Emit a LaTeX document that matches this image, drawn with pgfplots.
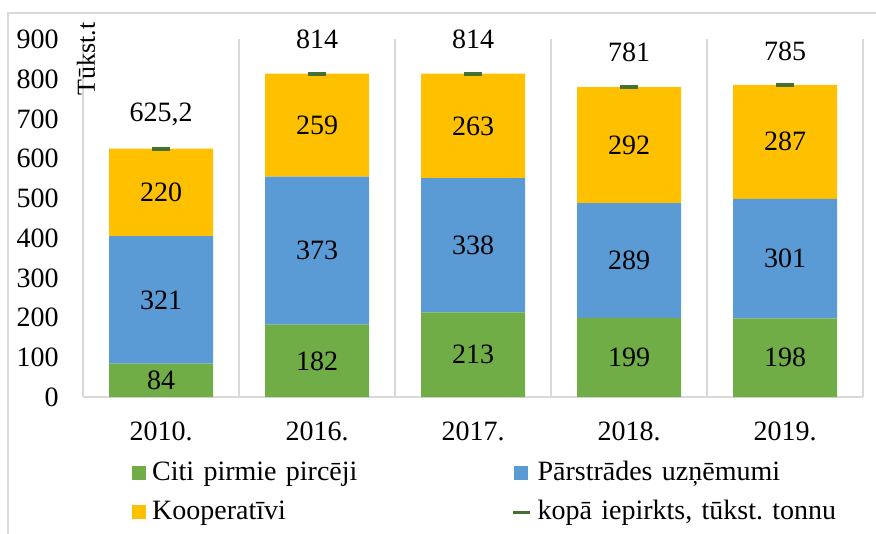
\documentclass[border=0pt]{standalone}
\usepackage{pgfplots}
\pgfplotsset{compat=1.18}
\usepackage{pgfplotstable}
\usepackage{fontspec}
\setmainfont{Liberation Serif}
\definecolor{cgreen}{HTML}{70AD47}
\definecolor{cblue}{HTML}{5B9BD5}
\definecolor{cgold}{HTML}{FFC000}
\definecolor{cdark}{HTML}{46702F}
\definecolor{gridc}{HTML}{D9D9D9}
\pgfplotstableread{
x green blue gold total label
0 84 321 220 625.2 625,2
1 182 373 259 814 814
2 213 338 263 814 814
3 199 289 292 781 781
4 198 301 287 785 785
}\datatable
\pgfplotsset{
  /pgf/number format/assume math mode=true,
  base/.style={width=390pt,height=178.75pt,scale only axis,
    xmin=-0.5,xmax=4.5,ymin=0,ymax=900,at={(0,0)},anchor=south west},
  seglabels/.style={nodes near coords, point meta=\thisrow{#1},
    every node near coord/.append style={anchor=center,text=black}},
  sqlegend/.style={legend image code/.code={\fill[##1] (0pt,-3.5pt) rectangle (7pt,3.5pt);}}
}
\begin{document}
\begin{tikzpicture}[font=\fontsize{14}{17}\selectfont]
\useasboundingbox (-41.5pt,-68.5pt) rectangle (396.5pt,198.5pt);
\draw[gridc, line width=0.6pt] (-37.5pt,-68.5pt) -- (-37.5pt,192pt) -- (396.5pt,192pt);
\begin{axis}[base, ybar stacked, bar width=52pt,
  axis x line*=bottom, axis y line*=left,
  axis line style={gridc, line width=0.6pt, -},
  major tick length=0,
  xtick={0,1,2,3,4},
  xticklabels={2010.,2016.,2017.,2018.,2019.},
  ytick={0,100,...,900},
  yticklabel style={anchor=east, inner sep=0pt, xshift=-12pt},
  xticklabel style={anchor=north, inner sep=0pt, yshift=-12pt},
  extra x ticks={0.5,1.5,2.5,3.5,4.5},
  extra x tick labels={},
  extra x tick style={grid=major, major grid style={gridc, line width=0.6pt}},
  legend columns=2,
  legend style={at={(0.0625,-0.158)}, anchor=north west, draw=none, fill=none,
    inner sep=0pt, row sep=0pt,
    nodes={text width=160pt, align=left, inner xsep=3pt, inner ysep=3.25pt,
      text height=10pt, text depth=3pt},
    /tikz/every even column/.append style={column sep=17pt}},
]
\addplot[fill=cgreen, draw=none, sqlegend, seglabels=green] table[x=x,y=green]{\datatable};
\addlegendentry{Citi pirmie pircēji}
\addplot[fill=cblue, draw=none, sqlegend, seglabels=blue] table[x=x,y=blue]{\datatable};
\addlegendentry{Pārstrādes uzņēmumi}
\addplot[fill=cgold, draw=none, sqlegend, seglabels=gold] table[x=x,y=gold]{\datatable};
\addlegendentry{Kooperatīvi}
\addlegendimage{legend image code/.code={\draw[cdark, line width=1.2pt] (-0.5pt,0pt) -- (8pt,0pt);}}
\addlegendentry{kopā iepirkts, tūkst.\ tonnu}
\end{axis}
\begin{axis}[base, hide axis]
\addplot[only marks, mark=-, mark size=4.5pt, mark options={line width=2pt, draw=cdark},
  point meta=explicit symbolic, nodes near coords,
  every node near coord/.append style={anchor=center, yshift=17pt, text=black}]
  table[x=x, y=total, meta=label]{\datatable};
\end{axis}
\node[rotate=90, font=\fontsize{13}{15}\selectfont] at (1.5pt,169pt) {Tūkst.t};
\end{tikzpicture}
\end{document}
